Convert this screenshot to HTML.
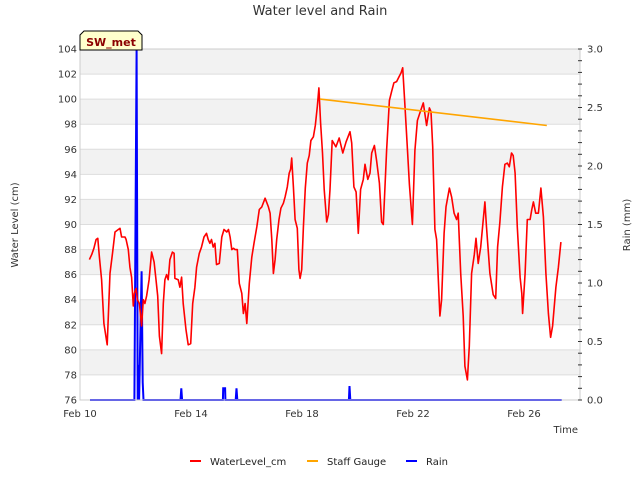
<!DOCTYPE html>
<html><head><meta charset="utf-8"><style>
body{margin:0;background:#fff;}
svg{display:block;font-family:"DejaVu Sans","Liberation Sans",sans-serif;}
</style></head><body>
<svg id="chart" width="640" height="480" viewBox="0 0 640 480">
<text x="320" y="15" text-anchor="middle" font-size="13" fill="#333">Water level and Rain</text>
<g id="bands"></g>
<g id="grid"></g>
<g id="series"></g>
<rect x="80" y="49" width="500" height="351" fill="none" stroke="#ccc"/>
<g id="axes"></g>
<text transform="translate(18,225) rotate(-90)" text-anchor="middle" font-size="10" fill="#333">Water Level (cm)</text>
<text transform="translate(630,225) rotate(-90)" text-anchor="middle" font-size="10" fill="#333">Rain (mm)</text>
<text x="578" y="433" text-anchor="end" font-size="10" fill="#333">Time</text>
<g>
<path d="M80,50 L80,35 L84,31 L138,31 L142,35 L142,50 Z" fill="#ffffcc" stroke="#000" stroke-width="1"/>
<text x="111" y="46" text-anchor="middle" font-size="11" font-weight="bold" fill="#8b0000">SW_met</text>
</g>
<g>
<g><line x1="190" y1="461" x2="201" y2="461" stroke="#f00" stroke-width="2"/><text x="210" y="465" font-size="10" fill="#222">WaterLevel_cm</text></g>
<g><line x1="307" y1="461" x2="318" y2="461" stroke="orange" stroke-width="2"/><text x="327" y="465" font-size="10" fill="#222">Staff Gauge</text></g>
<g><line x1="406" y1="461" x2="417" y2="461" stroke="#00f" stroke-width="2"/><text x="426" y="465" font-size="10" fill="#222">Rain</text></g>
</g>
</svg>
<script>
const wlDays=[0.34,0.42,0.50,0.58,0.64,0.70,0.78,0.86,0.98,1.08,1.17,1.26,1.38,1.44,1.50,1.62,1.66,1.74,1.80,1.86,1.92,1.96,2.02,2.07,2.14,2.22,2.28,2.34,2.40,2.49,2.58,2.67,2.74,2.80,2.86,2.94,3.00,3.06,3.12,3.18,3.24,3.33,3.39,3.42,3.54,3.60,3.66,3.72,3.82,3.90,3.99,4.06,4.14,4.20,4.30,4.38,4.47,4.56,4.62,4.68,4.74,4.80,4.86,4.92,5.02,5.11,5.19,5.29,5.35,5.41,5.47,5.53,5.59,5.67,5.74,5.83,5.89,5.95,6.01,6.10,6.19,6.27,6.37,6.46,6.55,6.67,6.79,6.85,6.91,6.97,7.03,7.09,7.17,7.24,7.33,7.39,7.47,7.54,7.59,7.63,7.69,7.75,7.83,7.89,7.93,7.99,8.05,8.12,8.19,8.26,8.32,8.41,8.48,8.55,8.61,8.67,8.74,8.80,8.89,8.95,9.01,9.09,9.22,9.34,9.47,9.59,9.73,9.79,9.87,9.95,10.03,10.11,10.21,10.27,10.37,10.45,10.51,10.61,10.69,10.79,10.87,10.93,11.05,11.15,11.23,11.31,11.41,11.50,11.57,11.63,11.71,11.80,11.87,11.98,12.07,12.16,12.25,12.37,12.49,12.59,12.65,12.71,12.79,12.85,12.97,13.03,13.12,13.19,13.31,13.39,13.48,13.57,13.63,13.72,13.81,13.87,13.96,14.03,14.11,14.21,14.27,14.35,14.44,14.59,14.65,14.77,14.89,14.98,15.05,15.13,15.22,15.31,15.40,15.47,15.55,15.61,15.68,15.76,15.86,15.92,15.95,16.04,16.12,16.22,16.28,16.34,16.42,16.52,16.61,16.70,16.79,16.88,16.96,17.03,17.15,17.24,17.33];
const wlValues=[87.2,87.6,88.1,88.8,88.9,87.4,85.6,82.1,80.4,86.1,87.7,89.4,89.6,89.7,89.0,89.0,88.8,88.0,86.6,85.8,83.5,84.5,84.9,84.0,83.7,81.9,84.0,83.7,84.3,85.6,87.8,87.0,85.6,84.3,81.1,79.7,83.7,85.6,86.0,85.6,87.2,87.8,87.7,85.7,85.6,85.0,85.8,83.7,81.6,80.4,80.5,83.7,85.0,86.6,87.7,88.2,89.0,89.3,88.8,88.5,88.8,88.2,88.5,86.8,86.9,89.0,89.6,89.4,89.6,89.0,88.0,88.1,88.0,88.0,85.3,84.5,82.9,83.7,82.1,85.3,87.4,88.5,89.8,91.2,91.4,92.1,91.4,90.9,88.8,86.1,87.2,88.8,90.4,91.3,91.7,92.2,93.0,94.1,94.4,95.3,93.0,90.4,89.7,86.4,85.7,86.4,89.8,92.9,94.9,95.5,96.7,97.0,97.9,99.4,100.9,98.1,95.7,92.8,90.2,90.8,92.8,96.7,96.2,96.9,95.7,96.6,97.4,96.5,93.0,92.6,89.3,92.8,93.6,94.8,93.6,94.1,95.7,96.3,95.1,93.3,90.2,90.0,95.9,99.9,100.6,101.3,101.4,101.8,102.1,102.5,99.4,95.9,93.2,90.0,95.9,98.3,98.9,99.7,97.9,99.3,99.0,96.2,89.6,88.8,82.7,84.0,89.3,91.4,92.9,92.2,90.9,90.4,90.9,86.1,82.7,78.7,77.6,80.3,86.1,87.6,88.9,86.9,88.2,91.8,89.8,86.1,84.4,84.1,88.2,90.2,93.0,94.8,94.9,94.6,95.7,95.5,94.1,89.8,85.8,84.5,82.9,86.1,90.4,90.4,91.2,91.8,90.9,90.9,92.9,90.6,86.1,82.9,81.0,81.9,85.0,86.6,88.6];
const staffDays=[8.65,16.82];
const staffValues=[100.0,97.9];
const rainDays=[0.36,1.96,2.04,2.08,2.10,2.13,2.22,2.26,2.29,3.62,3.65,3.68,5.15,5.16,5.23,5.24,5.61,5.64,5.67,9.69,9.71,9.74,17.36];
const rainValues=[0,0,3.0,0,0.3,0,1.1,0.15,0,0,0.1,0,0,0.1,0.1,0,0,0.1,0,0,0.12,0,0];
const leftTicks=[76,78,80,82,84,86,88,90,92,94,96,98,100,102,104];
const rightTicks=[0.0,0.5,1.0,1.5,2.0,2.5,3.0];
const xTickDays=[0,4,8,12,16];
const xTickLabels=["Feb 10","Feb 14","Feb 18","Feb 22","Feb 26"];

const NS="http://www.w3.org/2000/svg";
const X0=80,X1=580,Y0=400,Y1=49;
const xs=d=>X0+d*27.75;
const yl=v=>Y0-(v-76)/28*(Y0-Y1);
const yr=v=>Y0-v/3*(Y0-Y1);
function mk(tag,attrs,parent){const e=document.createElementNS(NS,tag);for(const k in attrs)e.setAttribute(k,attrs[k]);parent.appendChild(e);return e;}
const bands=document.getElementById('bands'),grid=document.getElementById('grid'),series=document.getElementById('series'),axes=document.getElementById('axes');
for(let i=0;i<leftTicks.length-1;i++){
  if((leftTicks.length-2-i)%2===0){
    const r=mk('rect',{x:X0,y:yl(leftTicks[i+1]),width:X1-X0,height:yl(leftTicks[i])-yl(leftTicks[i+1]),fill:'#f2f2f2'},bands);
    
    
  }
}
leftTicks.forEach(v=>{
  const l=mk('line',{x1:X0,x2:X1,y1:yl(v),y2:yl(v),stroke:'#ddd','stroke-width':1},grid);
  
  
  const t=mk('text',{x:X0-3,y:yl(v)+3.5,'text-anchor':'end','font-size':10,fill:'#333'},axes);
  t.textContent=v;
  
  
});
rightTicks.forEach(v=>{
  const t=mk('text',{x:X1+7,y:yr(v)+3.5,'font-size':10,fill:'#333'},axes);
  t.textContent=v.toFixed(1);
  
  
});
for(let k=0;k<=30;k++){
  const v=k/10;
  const l=mk('line',{x1:X1-2,x2:X1+2,y1:yr(v),y2:yr(v),stroke:'#333','stroke-width':1},axes);
  
  
}
xTickDays.forEach((d,i)=>{
  const t=mk('text',{x:xs(d),y:Y0+17,'text-anchor':'middle','font-size':10,fill:'#333'},axes);
  t.textContent=xTickLabels[i];
  
  
});
function pts(ds,vs,f){return ds.map((d,i)=>xs(d).toFixed(1)+','+f(vs[i]).toFixed(1)).join(' ');}
const rain=mk('polyline',{points:pts(rainDays,rainValues,yr),fill:'none',stroke:'#00f','stroke-width':2},series);


const wl=mk('polyline',{points:pts(wlDays,wlValues,yl),fill:'none',stroke:'#f00','stroke-width':1.6,'stroke-linejoin':'round'},series);


const sg=mk('polyline',{points:pts(staffDays,staffValues,yl),fill:'none',stroke:'orange','stroke-width':1.6},series);


</script>
</body></html>
